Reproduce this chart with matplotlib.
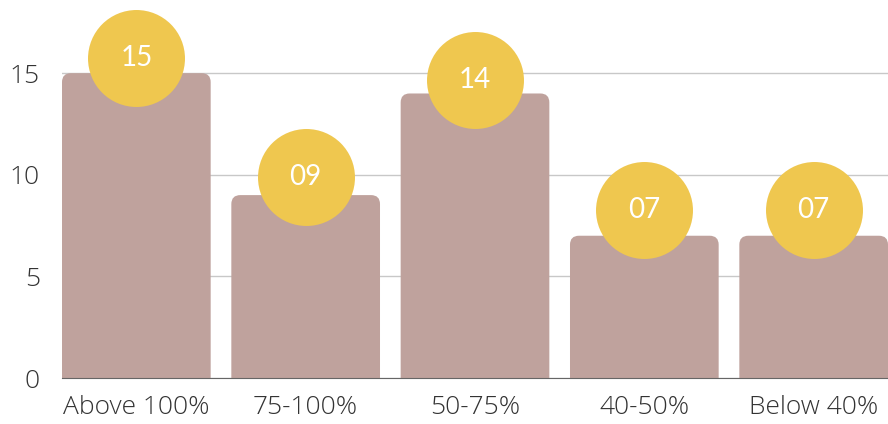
import matplotlib
matplotlib.use("Agg")
from matplotlib import pyplot as plt
from matplotlib.path import Path
from matplotlib.patches import PathPatch

categories = ["Above 100%", "75-100%", "50-75%", "40-50%", "Below 40%"]
values = [15, 9, 14, 7, 7]
labels = ["15", "09", "14", "07", "07"]
bubble_y = [15.75, 9.9, 14.65, 8.25, 8.25]

bar_color = "#bfa29d"
dot_color = "#efc74f"

plt.rcParams['font.family'] = ['Open Sans', 'DejaVu Sans']

fig = plt.figure(figsize=(8.88, 4.24), dpi=100)
ax = fig.add_axes([62 / 888, 46 / 424, 1 - 62 / 888, 1 - 46 / 424])

w = 0.878
x = list(range(len(values)))
bars = ax.bar(x, values, width=w, color=bar_color, zorder=2)

ax.set_xlim(-w / 2, len(values) - 1 + w / 2)
ax.set_ylim(0, 18.6)

# swap plain bars for ones with rounded top corners (radius ~9 px)
rx = 9 * (len(values) - 1 + w) / 826
ry = 9 * 18.6 / 378
for b in bars:
    x0, y0 = b.get_xy()
    x1, y1 = x0 + b.get_width(), y0 + b.get_height()
    b.set_visible(False)
    verts = [(x0, y0), (x0, y1 - ry), (x0, y1), (x0 + rx, y1),
             (x1 - rx, y1), (x1, y1), (x1, y1 - ry), (x1, y0), (x0, y0)]
    codes = [Path.MOVETO, Path.LINETO, Path.CURVE3, Path.CURVE3,
             Path.LINETO, Path.CURVE3, Path.CURVE3, Path.LINETO, Path.CLOSEPOLY]
    ax.add_patch(PathPatch(Path(verts, codes), fc=bar_color, ec="none", zorder=2))

ax.scatter(x, bubble_y, s=4875, color=dot_color, zorder=3, linewidths=0)
for xi, yi, t in zip(x, bubble_y, labels):
    ax.text(xi, yi, t, ha="center", va="center", color="white", fontsize=20,
            family=["Lato", "DejaVu Sans"], zorder=4)

ax.set_yticks([0, 5, 10, 15])
ax.set_xticks(x)
ax.set_xticklabels(categories)
ax.grid(axis="y", color="#c8c8c8", linewidth=1, zorder=0)
ax.set_axisbelow(True)
for s in ["top", "right", "left"]:
    ax.spines[s].set_visible(False)
ax.spines["bottom"].set_color("#666666")
ax.spines["bottom"].set_zorder(5)
ax.tick_params(axis="both", length=0, labelsize=19, colors="#333333")
ax.tick_params(axis="x", pad=12)
ax.tick_params(axis="y", pad=16)
for lab in ax.get_xticklabels() + ax.get_yticklabels():
    lab.set_fontweight("light")

fig.savefig("out.png", dpi=100)
